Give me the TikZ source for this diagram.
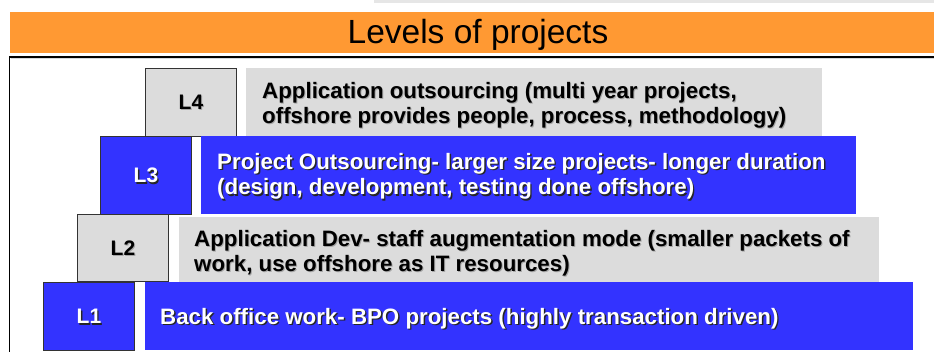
\documentclass[tikz,border=0pt]{standalone}
\usepackage{fontspec}
\setmainfont{Liberation Sans}
\usetikzlibrary{calc}
\definecolor{bandorange}{HTML}{FF9933}
\definecolor{boxgrey}{HTML}{DCDCDC}
\definecolor{boxblue}{HTML}{3333FF}
\definecolor{topgrey}{HTML}{E6E6E6}
\tikzset{
  lvlbox/.style={draw=black!80, line width=1pt, minimum width=91pt, minimum height=68pt, anchor=north west, inner sep=0pt},
  lvltext/.style={inner sep=0pt, font=\fontsize{21}{25}\selectfont\bfseries},
  descbox/.style={minimum height=68pt, anchor=north west, inner sep=0pt},
  desctext/.style={anchor=west, align=left, inner sep=0pt, font=\fontsize{22.3}{25.5}\selectfont\bfseries},
  darkshadow/.style={text=black!85},
  lightshadow/.style={text=black!35}
}
\begin{document}
\begin{tikzpicture}[x=1pt,y=-1pt]
\useasboundingbox (0,0) rectangle (934,352);
\fill[topgrey] (374,0) rectangle (934,3);
\fill[bandorange] (10,12) rectangle (934,53);
\node[inner sep=0pt] (title) at (478,35.3) {\fontsize{33.5}{38}\selectfont Levels of projects};
\draw[black!15, line width=1pt] (934,58.5) -- (11,58.5);
\draw[line width=1.4pt] (934,57) -- (9.5,57) -- (9.5,353);
% L4
\node[descbox, fill=boxgrey, minimum width=576pt] (d4) at (246,68) {};
\node[lvlbox, fill=boxgrey] (L4) at (145,68) {};
\node[lvltext, lightshadow] at ($(L4.center)+(1,1)$) {L4};
\node[lvltext] at (L4.center) {L4};
\node[desctext, lightshadow] at (263,106.3) {Application outsourcing (multi year projects,\\offshore provides people, process, methodology)};
\node[desctext] (t4) at (262,105.3) {Application outsourcing (multi year projects,\\offshore provides people, process, methodology)};
% L3
\node[descbox, fill=boxblue, minimum width=655pt, minimum height=78pt] (d3) at (201,136) {};
\node[lvlbox, fill=boxblue, minimum height=78pt] (L3) at (100,136) {};
\node[lvltext, darkshadow] at ($(L3.center)+(1.4,1.4)$) {L3};
\node[lvltext, text=white] at (L3.center) {L3};
\node[desctext, darkshadow] at (218.4,177.7) {Project Outsourcing- larger size projects- longer duration\\(design, development, testing done offshore)};
\node[desctext, text=white] (t3) at (217,176.3) {Project Outsourcing- larger size projects- longer duration\\(design, development, testing done offshore)};
% L2
\node[descbox, fill=boxgrey, minimum width=700pt, minimum height=65pt] (d2) at (179,217) {};
\node[lvlbox, fill=boxgrey, minimum height=67pt] (L2) at (77,214) {};
\node[lvltext, lightshadow] at ($(L2.center)+(1,1)$) {L2};
\node[lvltext] at (L2.center) {L2};
\node[desctext, lightshadow] at (195,254.3) {Application Dev- staff augmentation mode (smaller packets of\\work, use offshore as IT resources)};
\node[desctext] (t2) at (194,253.3) {Application Dev- staff augmentation mode (smaller packets of\\work, use offshore as IT resources)};
% L1
\node[descbox, fill=boxblue, minimum width=768pt] (d1) at (145,282) {};
\node[lvlbox, fill=boxblue] (L1) at (43,282) {};
\node[lvltext, darkshadow] at ($(L1.center)+(1.4,1.4)$) {L1};
\node[lvltext, text=white] at (L1.center) {L1};
\node[desctext, darkshadow] at (161.4,319.7) {Back office work- BPO projects (highly transaction driven)};
\node[desctext, text=white] (t1) at (160,318.3) {Back office work- BPO projects (highly transaction driven)};
\end{tikzpicture}
\end{document}
